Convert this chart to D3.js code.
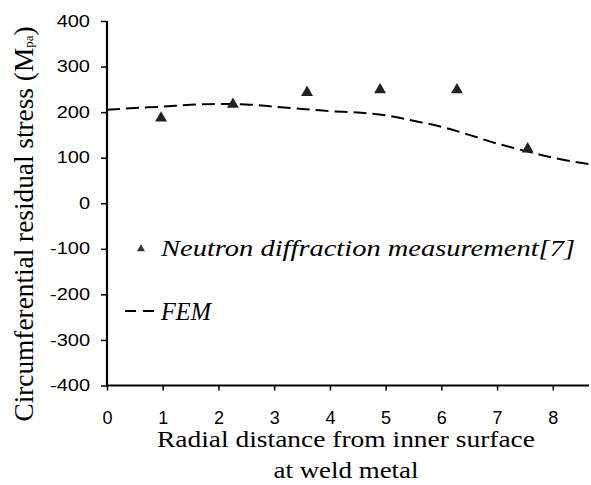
<!DOCTYPE html>
<html><head><meta charset="utf-8">
<script src="https://cdn.jsdelivr.net/npm/d3@7"></script>
<style>body{margin:0;background:#fff}
.serif{font-family:'Liberation Serif','Times New Roman',Times,serif}
.sans{font-family:'Liberation Sans',Arial,Helvetica,sans-serif}
</style>
</head><body>
<svg id="c" width="591" height="485"></svg>
<script>
const xTicks = [0,1,2,3,4,5,6,7,8];
const yTicks = [400,300,200,100,0,-100,-200,-300,-400];
const measX = [0.97, 2.26, 3.59, 4.90, 6.28, 7.55];
const measY = [187, 217, 243, 249, 249, 119];
const femX = [0, 0.5, 1.0, 1.5, 2.0, 2.5, 3.0, 3.5, 4.0, 4.5, 5.0, 5.5, 6.0, 6.5, 7.0, 7.5, 8.0, 8.65];
const femY = [205, 209, 212, 216, 218, 217, 212, 207, 202, 199, 193, 181, 168, 150, 131, 115, 100, 86];
const legendLabels = ["Neutron diffraction measurement[7]", "FEM"];

const svg = d3.select("#c");
const x = d3.scaleLinear().domain([0, 8.65]).range([107, 589]);
const y = d3.scaleLinear().domain([-400, 400]).range([385.5, 21]);

function stretch(sel, k) {
  sel.each(function() {
    const len = this.getComputedTextLength();
    d3.select(this).attr("textLength", len * k).attr("lengthAdjust", "spacingAndGlyphs");
  });
}

// axes
const yAxis = d3.axisLeft(y).tickValues(yTicks).tickSize(6).tickPadding(11).tickFormat(d => String(d));
const gy = svg.append("g").attr("transform", `translate(${x(0)},0)`).call(yAxis);
gy.attr("font-family", null).attr("font-size", null);
gy.select(".domain").attr("stroke", "#000").attr("stroke-width", 2.2).attr("d", `M0,${y(400)}V${y(-400)}`);
gy.selectAll(".tick line").attr("stroke-width", 1.5);
gy.selectAll(".tick text").attr("class", "sans").attr("font-size", 16).attr("fill", "#000");
stretch(gy.selectAll(".tick text"), 1.25);

const xAxis = d3.axisBottom(x).tickValues(xTicks).tickSize(5).tickFormat(d => String(d));
const gx = svg.append("g").attr("transform", `translate(0,${y(-400)})`).call(xAxis);
gx.attr("font-family", null).attr("font-size", null);
gx.select(".domain").attr("stroke", "#000").attr("stroke-width", 2.2).attr("d", `M${x(0)},0H${x(8.65)}`);
gx.selectAll(".tick line").attr("stroke-width", 1.5);
gx.selectAll(".tick text").attr("class", "sans").attr("font-size", 18).attr("fill", "#000")
  .attr("y", 38.5).attr("dy", null);

// FEM dashed line
const line = d3.line().x(d => x(d[0])).y(d => y(d[1])).curve(d3.curveMonotoneX);
svg.append("path").datum(femX.map((v, i) => [v, femY[i]]))
  .attr("d", line).attr("fill", "none").attr("stroke", "#000").attr("stroke-width", 2)
  .attr("stroke-dasharray", "13,6");

// measurement triangles
const tri = d3.symbol().type(d3.symbolTriangle).size(62);
svg.append("g").selectAll("path").data(measX.map((v, i) => [v, measY[i]])).join("path")
  .attr("d", tri).attr("transform", d => `translate(${x(d[0])},${y(d[1])})`).attr("fill", "#222");

// legend
svg.append("path").attr("d", d3.symbol().type(d3.symbolTriangle).size(28)).attr("transform", "translate(141,249)").attr("fill", "#333");
svg.append("text").attr("class", "serif").attr("x", 161).attr("y", 256).text(legendLabels[0])
  .attr("font-style", "italic").attr("font-size", 23).attr("textLength", 414).attr("lengthAdjust", "spacingAndGlyphs");
svg.append("path").attr("d", "M125,311H156").attr("stroke", "#000").attr("stroke-width", 2).attr("stroke-dasharray", "11,7");
svg.append("text").attr("class", "serif").attr("x", 161).attr("y", 320).text(legendLabels[1])
  .attr("font-style", "italic").attr("font-size", 26).attr("textLength", 50).attr("lengthAdjust", "spacingAndGlyphs");

// axis titles
const yt = svg.append("text").attr("class", "serif").attr("transform", "translate(33,224) rotate(-90)").attr("text-anchor", "middle")
  .attr("font-size", 27.3);
yt.append("tspan").text("Circumferential residual stress (M");
yt.append("tspan").attr("font-size", 13).text("pa");
yt.append("tspan").text(")");
svg.append("text").attr("class", "serif").attr("x", 346).attr("y", 447).attr("text-anchor", "middle")
  .attr("font-size", 23).attr("textLength", 378).attr("lengthAdjust", "spacingAndGlyphs")
  .text("Radial distance from inner surface");
svg.append("text").attr("class", "serif").attr("x", 346).attr("y", 478).attr("text-anchor", "middle")
  .attr("font-size", 23).attr("textLength", 145).attr("lengthAdjust", "spacingAndGlyphs")
  .text("at weld metal");
</script>
</body></html>
